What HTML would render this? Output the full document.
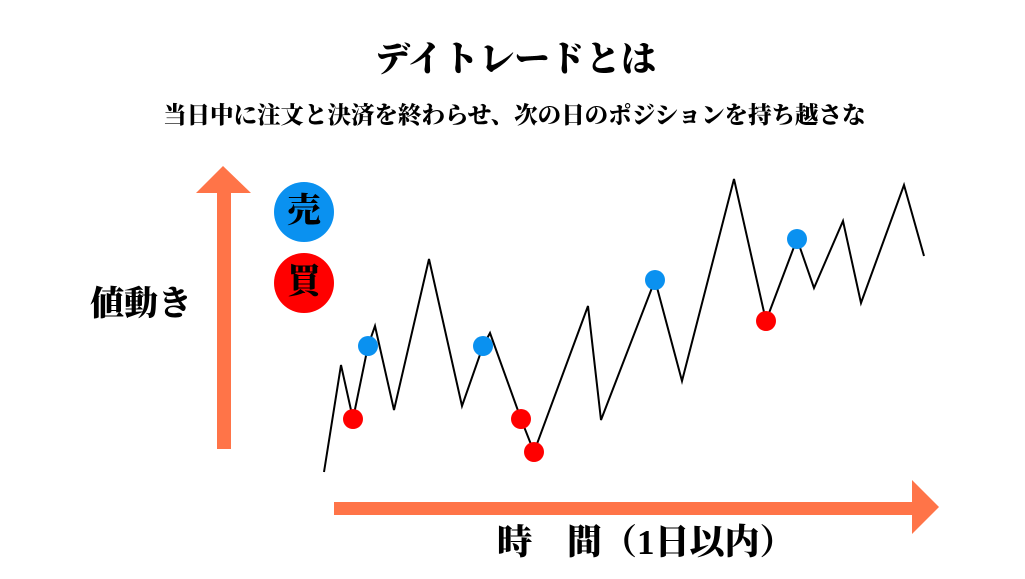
<!DOCTYPE html>
<html><head><meta charset="utf-8"><style>
body{margin:0;width:1025px;height:579px;background:#fff;overflow:hidden;position:relative;font-family:"Liberation Serif","Noto Serif CJK JP","Noto Serif CJK SC",serif;font-weight:900;color:#000}
.t{position:absolute;white-space:nowrap;line-height:1}
</style></head><body>
<svg width="1025" height="579" style="position:absolute;left:0;top:0">
<g fill="#FF7448">
<rect x="217" y="192" width="14" height="257"/>
<polygon points="196,193 223,166 251,193"/>
<rect x="334" y="502" width="580" height="13"/>
<polygon points="912,480 939,507 912,534"/>
</g>
<circle cx="304" cy="212" r="30" fill="#0A91F0"/>
<circle cx="304" cy="283" r="30" fill="#FF0000"/>
<polyline fill="none" stroke="#000" stroke-width="2" points="324,472 341,365 353,419 368,346 375,326 394,410 429,259 462,406 483,346 490,333 521,419 534,452 588,306 601,420 655,280 682,381 734,179 766,321 797,239 814,288 843,221 861,303 904,185 924,256"/>
<g fill="#FF0000"><circle cx="353" cy="419" r="10"/><circle cx="521" cy="419" r="10"/><circle cx="534" cy="452" r="10"/><circle cx="766" cy="321" r="10"/></g>
<g fill="#0A91F0"><circle cx="368" cy="346" r="10"/><circle cx="483" cy="346" r="10"/><circle cx="655" cy="280" r="10"/><circle cx="797" cy="239" r="10"/></g>
</svg>
<div class="t" style="left:0;width:1031px;text-align:center;top:42px;font-size:35.5px">デイトレードとは</div>
<div class="t" style="left:163px;top:105px;font-size:23.5px">当日中に注文と決済を終わらせ、次の日のポジションを持ち越さな</div>
<div class="t" style="left:90px;top:288px;font-size:34px">値動き</div>
<div class="t" style="left:287px;top:195px;font-size:34px">売</div>
<div class="t" style="left:287px;top:266px;font-size:34px">買</div>
<div class="t" style="left:497px;top:525px;font-size:35px">時　間（1日以内）</div>
</body></html>
